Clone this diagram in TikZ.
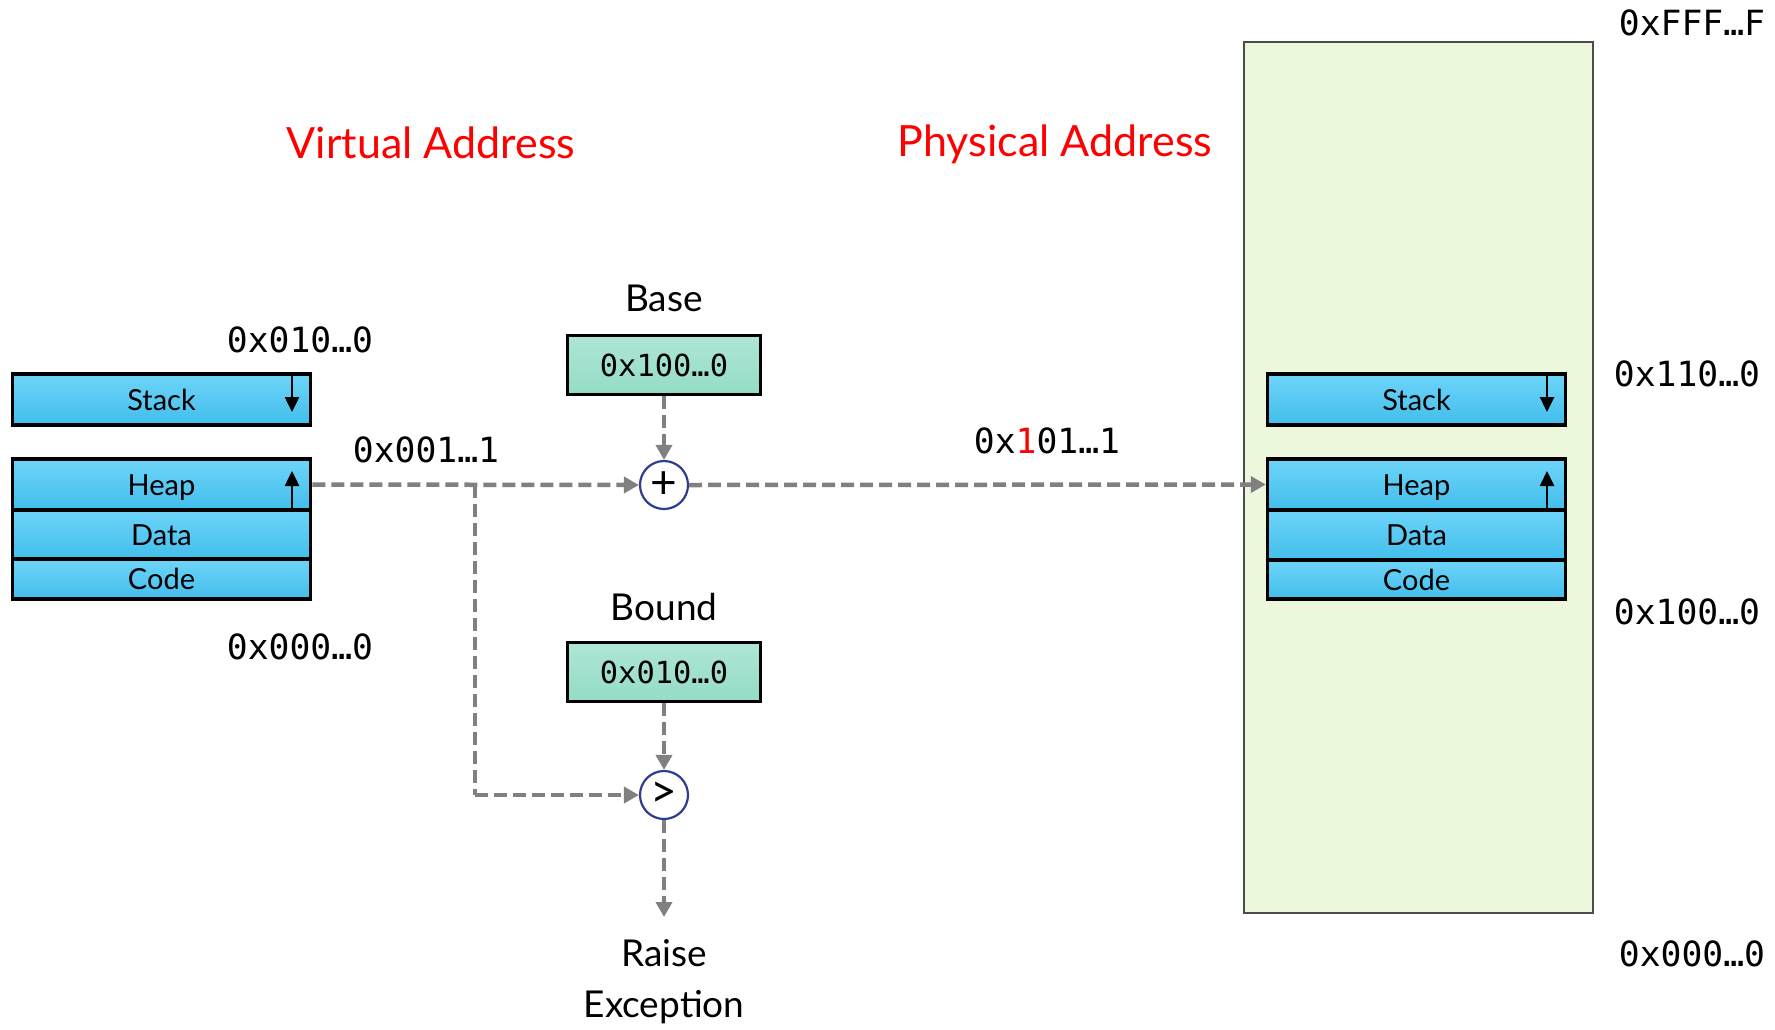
\documentclass[tikz,border=0pt]{standalone}
\usepackage{fontspec}
\setmainfont{Lato}
\setmonofont{DejaVu Sans Mono}
\usetikzlibrary{arrows.meta}
\definecolor{segtop}{RGB}{110,212,248}
\definecolor{segbot}{RGB}{66,190,236}
\definecolor{regtop}{RGB}{174,229,214}
\definecolor{regbot}{RGB}{148,220,198}
\definecolor{memfill}{RGB}{236,248,219}
\definecolor{cblue}{RGB}{46,62,143}
\definecolor{dgray}{RGB}{128,128,128}
\tikzset{
  seg/.style={draw=black, line width=3.5pt, top color=segtop, bottom color=segbot, minimum width=298pt, inner sep=0pt, text height=21pt, text depth=0pt, font=\fontsize{29}{30}\selectfont},
  reg/.style={draw=black, line width=3pt, top color=regtop, bottom color=regbot, minimum width=193pt, minimum height=59pt, inner sep=0pt, font=\ttfamily\fontsize{30.4}{32}\selectfont},
  op/.style={circle, draw=cblue, line width=2.2pt, fill=white, minimum size=48pt, inner sep=0pt, font=\fontsize{46}{46}\selectfont},
  addr/.style={font=\ttfamily\fontsize{34.7}{36}\selectfont, inner sep=0pt},
  lbl/.style={font=\fontsize{37}{51}\selectfont, inner sep=0pt, align=center},
  title/.style={font=\fontsize{43}{48}\selectfont, text=red, inner sep=0pt},
  flow/.style={draw=dgray, line width=4.5pt, dash pattern=on 13pt off 6pt, -{Triangle[length=15pt,width=16pt]}},
  flowplain/.style={draw=dgray, line width=4.5pt, dash pattern=on 13pt off 6pt},
  growarrow/.style={draw=black, line width=2.5pt, -{Triangle[length=15pt,width=14pt]}}
}
\begin{document}
\begin{tikzpicture}[x=1pt,y=-1pt]
\useasboundingbox (0,0) rectangle (1775,1029);
% physical memory
\node[draw=black!70, line width=1.5pt, fill=memfill, minimum width=349pt, minimum height=871pt, inner sep=0pt] (mem) at (1418.5,477.5) {};
% titles
\node[title] (vtitle) at (431,143) {Virtual Address};
\node[title] (ptitle) at (1055,144) {Physical Address};
% virtual segments
\node[seg, minimum height=51pt] (vstack) at (161.5,399.5) {Stack};
\node[seg, minimum height=51pt] (vheap) at (161.5,484.5) {Heap};
\node[seg, minimum height=49pt] (vdata) at (161.5,534.5) {Data};
\node[seg, minimum height=40pt] (vcode) at (161.5,579) {Code};
\draw[growarrow] (292,374) -- (292,412);
\draw[growarrow] (292,510) -- (292,471);
% physical segments
\node[seg, minimum height=51pt] (pstack) at (1416.5,399.5) {Stack};
\node[seg, minimum height=51pt] (pheap) at (1416.5,484.5) {Heap};
\node[seg, minimum height=50pt] (pdata) at (1416.5,535) {Data};
\node[seg, minimum height=39pt] (pcode) at (1416.5,579.5) {Code};
\draw[growarrow] (1547,374) -- (1547,412);
\draw[growarrow] (1547,510) -- (1547,471);
% registers
\node[lbl] (baselbl) at (664,298) {Base};
\node[reg] (base) at (664,365) {0x100…0};
\node[lbl] (boundlbl) at (664,607) {Bound};
\node[reg] (bound) at (664,672) {0x010…0};
\node[op] (plus) at (664,485) {+};
\node[op] (gt) at (664,795) {>};
\node[lbl] (raise) at (664,982) {Raise\\Exception};
\coordinate (split) at (475,485);
\coordinate (raiseend) at (664,917);
% connectors
\draw[flow] (vheap.east) -- (plus.west);
\draw[flowplain] (split) -- (475,795);
\draw[flow] (475,795) -- (gt.west);
\draw[flow] (base.south) -- (plus.north);
\draw[flow] (bound.south) -- (gt.north);
\draw[flow] (gt.south) -- (raiseend);
\draw[flow] (plus.east) -- (pheap.west);
% addresses
\node[addr] (a1) at (300,340) {0x010…0};
\node[addr] (a2) at (300,647) {0x000…0};
\node[addr] (a3) at (426,450) {0x001…1};
\node[addr] (a4) at (1047,441) {0x\textcolor{red}{1}01…1};
\node[addr] (a5) at (1692,23) {0xFFF…F};
\node[addr] (a6) at (1687,374) {0x110…0};
\node[addr] (a7) at (1687,612) {0x100…0};
\node[addr] (a8) at (1692,954) {0x000…0};
\end{tikzpicture}
\end{document}
